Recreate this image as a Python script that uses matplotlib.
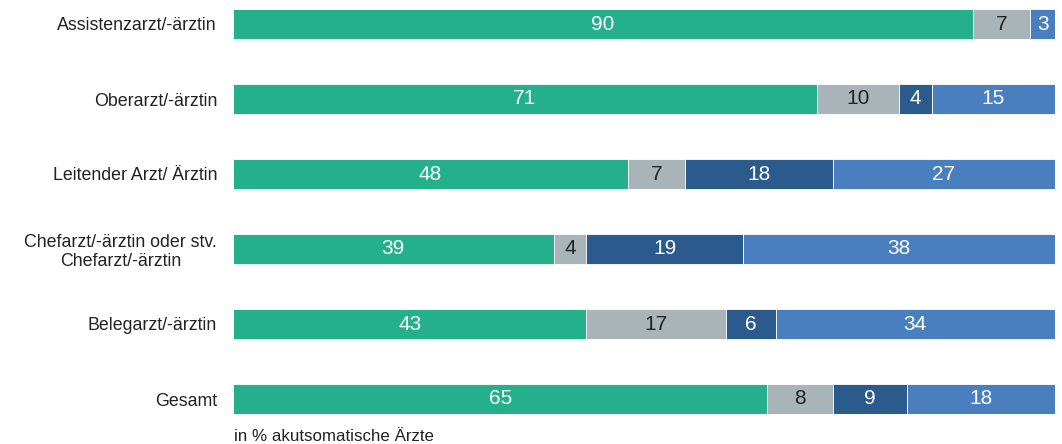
import numpy as np
import matplotlib
matplotlib.use("Agg")
import matplotlib.pyplot as plt

plt.rcParams["font.family"] = ["Liberation Sans", "DejaVu Sans"]

categories = ["Assistenzarzt/-ärztin", "Oberarzt/-ärztin", "Leitender Arzt/ Ärztin",
              "Chefarzt/-ärztin oder stv.\nChefarzt/-ärztin", "Belegarzt/-ärztin", "Gesamt"]
green = [90, 71, 48, 39, 43, 65]
grey = [7, 10, 7, 4, 17, 8]
darkblue = [0, 4, 18, 19, 6, 9]
blue = [3, 15, 27, 38, 34, 18]

series = [(green, "#24b08a", "white"),
          (grey, "#a9b4b8", "#222222"),
          (darkblue, "#2b5b8c", "white"),
          (blue, "#4a7fbf", "white")]

fig = plt.figure(figsize=(10.62, 4.44), dpi=100)
ax = fig.add_axes([233 / 1062, 1 - 414 / 444, (1055 - 233) / 1062, (414 - 9) / 444])

y = np.arange(len(categories))
left = np.zeros(len(categories))
for vals, col, tcol in series:
    vals = np.array(vals, dtype=float)
    ax.barh(y, vals, left=left, height=0.4, color=col, edgecolor="white", linewidth=0.6)
    for yi, l, v in zip(y, left, vals):
        if v > 0:
            ax.text(l + v / 2, yi, f"{int(v)}", ha="center", va="center",
                    color=tcol, fontsize=15)
    left += vals

ax.set_xlim(0, 100)
ax.set_ylim(5.2, -0.2)
ax.set_yticks(y)
ax.set_yticklabels(categories, fontsize=12.8, color="#222222",
                   multialignment="center", linespacing=1.15)
ax.tick_params(axis="y", length=0, pad=11.5)
ax.set_xticks([])
for s in ax.spines.values():
    s.set_visible(False)

fig.text(234 / 1062, 1 - 436 / 444, "in % akutsomatische Ärzte", fontsize=12.2,
         color="#222222", ha="left", va="center")

fig.savefig("out.png", dpi=100)
